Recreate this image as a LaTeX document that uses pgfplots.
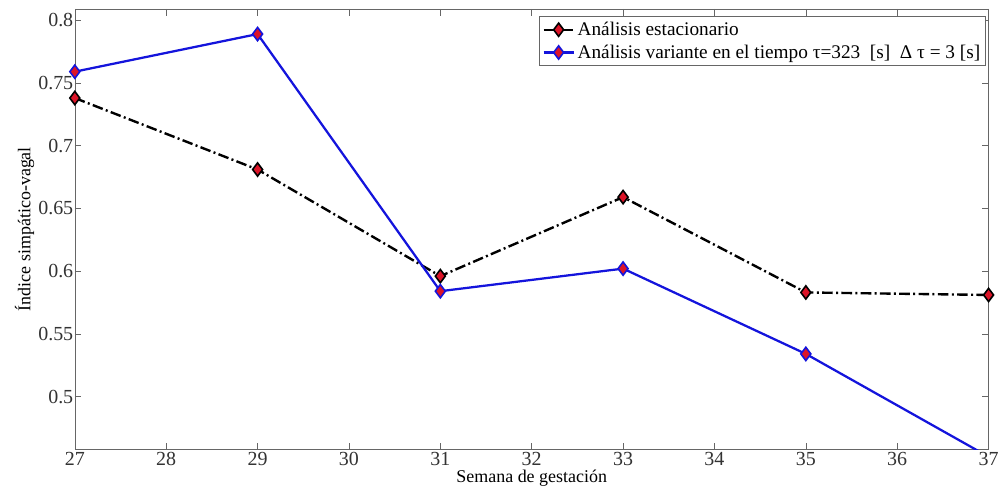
\documentclass[border=0pt]{standalone}
\usepackage{fontspec}
\setmainfont{Liberation Serif}
\usepackage{pgfplots}
\pgfplotsset{compat=1.18}
\definecolor{mred}{RGB}{220,20,40}
\definecolor{mblue}{RGB}{20,20,220}
\begin{document}
\begin{tikzpicture}
\begin{axis}[
  name=ax,
  width=687pt, height=331pt, scale only axis,
  xmin=27, xmax=37, ymin=0.458, ymax=0.809,
  xtick={27,28,...,37},
  ytick={0.5,0.55,0.6,0.65,0.7,0.75,0.8},
  yticklabels={0.5,0.55,0.6,0.65,0.7,0.75,0.8},
  tick align=inside, tick pos=both,
  major tick length=5pt,
  axis line style={gray!80!black},
  every tick/.style={gray!80!black},
  /pgf/number format/assume math mode=true,
  tick label style={font=\fontsize{15pt}{17pt}\selectfont, text=black!80},
  yticklabel style={inner xsep=1pt},
  xticklabel style={inner ysep=2pt},
  label style={font=\fontsize{13.5pt}{15pt}\selectfont},
  xlabel={Semana de gestación},
  ylabel={Índice simpático-vagal},
  xlabel style={at={(axis description cs:0.5,-0.066)}, anchor=center},
  ylabel style={at={(axis description cs:-0.055,0.5)}, anchor=center},
  legend style={at={(0.997,0.983)}, anchor=north east, font=\fontsize{14.5pt}{16pt}\selectfont, draw=gray!80!black, inner sep=2pt, row sep=1.5pt, cells={anchor=west}},
  legend cell align=left,
  legend image code/.code={\draw[mark repeat=2,mark phase=2] plot coordinates {(0cm,0cm) (0.4cm,0cm) (0.8cm,0cm)};},
  clip=true,
]
\addplot[black, line width=1.8pt, dash pattern=on 8pt off 2.5pt on 1.5pt off 2.5pt, mark=diamond*, mark size=5pt, mark options={solid, fill=mred, draw=black, line width=1.2pt}]
 coordinates {(27,0.738) (29,0.681) (31,0.596) (33,0.659) (35,0.583) (37,0.581)};
\addlegendentry{Análisis estacionario}
\addplot[mblue, line width=1.7pt, mark=diamond*, mark size=5pt, mark options={solid, fill=mred, draw=mblue, line width=1.2pt}]
 coordinates {(27,0.759) (29,0.789) (31,0.584) (33,0.602) (35,0.534) (37,0.452)};
\addlegendentry{Análisis variante en el tiempo τ=323~~[s]~~Δ τ = 3 [s]}
\end{axis}
\path ([xshift=-56.25pt,yshift=-33.75pt]ax.south west) rectangle ([xshift=9pt,yshift=6.75pt]ax.north east);
\end{tikzpicture}
\end{document}
